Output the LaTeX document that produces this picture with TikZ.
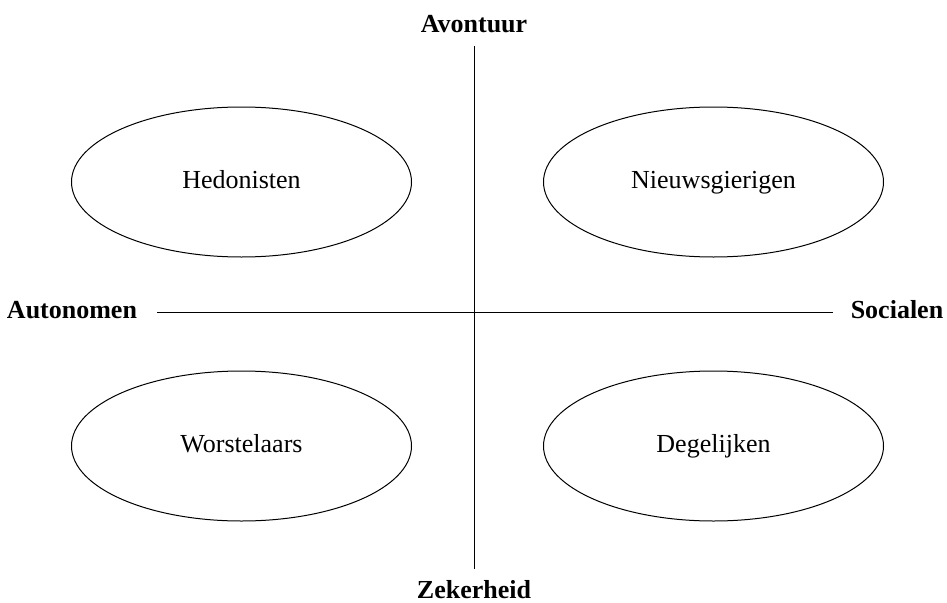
\documentclass[tikz,border=0pt]{standalone}
\usepackage{fontspec}
\setmainfont{Liberation Serif}
\usetikzlibrary{shapes.geometric}
\begin{document}
\begin{tikzpicture}[x=1pt,y=-1pt,
  quadrant/.style={draw, line width=1pt, ellipse, minimum width=340pt, minimum height=150pt, inner sep=0pt,
    text height=18pt, text depth=6pt, font=\fontsize{26}{30}\selectfont},
  axislabel/.style={font=\fontsize{26}{30}\selectfont\bfseries, inner sep=0pt, text height=18pt, text depth=6pt},
  axis/.style={line width=1pt}]
  \useasboundingbox (0,0) rectangle (947,602);
  % axis end points
  \coordinate (top) at (474,46);
  \coordinate (bottom) at (474,569);
  \coordinate (left) at (157,312);
  \coordinate (right) at (833,312);
  \draw[axis] (top) -- (bottom);
  \draw[axis] (left) -- (right);
  % axis labels
  \node[axislabel] (avontuur) at (474,27) {Avontuur};
  \node[axislabel] (zekerheid) at (474,592) {Zekerheid};
  \node[axislabel] (autonomen) at (72,312) {Autonomen};
  \node[axislabel] (socialen) at (897,312) {Socialen};
  % quadrants
  \node[quadrant] (hedonisten) at (241.5,182) {Hedonisten};
  \node[quadrant] (nieuwsgierigen) at (713.5,182) {Nieuwsgierigen};
  \node[quadrant] (worstelaars) at (241.5,446) {Worstelaars};
  \node[quadrant] (degelijken) at (713.5,446) {Degelijken};
\end{tikzpicture}
\end{document}
